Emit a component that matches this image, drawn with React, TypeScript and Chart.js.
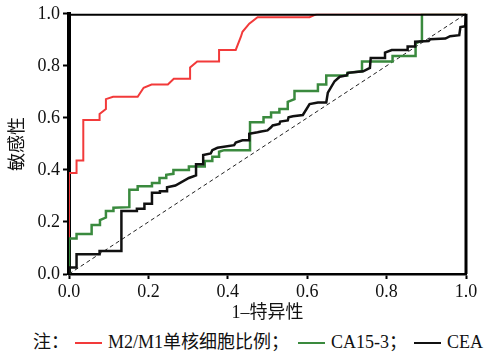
import React, { useEffect, useRef } from "react";
import { Chart, registerables } from "chart.js";

Chart.register(...registerables);

// M2/M1 monocyte ratio ROC
const m2m1Fpr = [0, 0, 0.019, 0.019, 0.036, 0.036, 0.077, 0.077, 0.093, 0.093, 0.111, 0.173, 0.188, 0.208, 0.249, 0.264, 0.305, 0.305, 0.323, 0.378, 0.378, 0.42, 0.433, 0.437, 0.454, 0.475, 0.606, 0.625, 1];
const m2m1Tpr = [0, 0.388, 0.388, 0.436, 0.436, 0.592, 0.592, 0.615, 0.634, 0.672, 0.681, 0.681, 0.716, 0.728, 0.728, 0.75, 0.75, 0.794, 0.817, 0.817, 0.861, 0.861, 0.912, 0.931, 0.962, 0.987, 0.987, 1, 1];

// CA15-3 ROC
const ca153Fpr = [0, 0, 0.019, 0.019, 0.057, 0.057, 0.078, 0.078, 0.093, 0.093, 0.112, 0.112, 0.152, 0.152, 0.173, 0.173, 0.209, 0.209, 0.228, 0.228, 0.245, 0.245, 0.263, 0.263, 0.302, 0.302, 0.342, 0.342, 0.361, 0.361, 0.378, 0.378, 0.391, 0.456, 0.456, 0.49, 0.49, 0.509, 0.509, 0.53, 0.53, 0.551, 0.551, 0.568, 0.568, 0.627, 0.627, 0.648, 0.648, 0.701, 0.701, 0.738, 0.738, 0.815, 0.815, 0.873, 0.873, 0.889, 0.889, 1];
const ca153Tpr = [0, 0.136, 0.136, 0.154, 0.154, 0.188, 0.188, 0.207, 0.217, 0.242, 0.242, 0.255, 0.257, 0.324, 0.324, 0.337, 0.337, 0.35, 0.35, 0.369, 0.369, 0.381, 0.385, 0.4, 0.4, 0.413, 0.413, 0.434, 0.434, 0.451, 0.451, 0.47, 0.476, 0.476, 0.583, 0.583, 0.602, 0.602, 0.621, 0.621, 0.634, 0.634, 0.662, 0.672, 0.703, 0.703, 0.728, 0.728, 0.763, 0.763, 0.773, 0.779, 0.817, 0.817, 0.838, 0.838, 0.886, 0.897, 1, 1];

// CEA ROC
const ceaFpr = [0, 0, 0.019, 0.019, 0.077, 0.077, 0.132, 0.132, 0.171, 0.171, 0.19, 0.19, 0.209, 0.209, 0.229, 0.229, 0.247, 0.247, 0.268, 0.302, 0.32, 0.32, 0.338, 0.338, 0.357, 0.361, 0.374, 0.416, 0.42, 0.437, 0.454, 0.454, 0.475, 0.484, 0.5, 0.509, 0.513, 0.53, 0.532, 0.551, 0.553, 0.564, 0.589, 0.606, 0.627, 0.648, 0.652, 0.669, 0.682, 0.699, 0.703, 0.741, 0.758, 0.76, 0.796, 0.796, 0.813, 0.853, 0.853, 0.872, 0.872, 0.906, 0.91, 0.948, 0.96, 0.983, 0.986, 0.998, 1];
const ceaTpr = [0, 0.025, 0.025, 0.076, 0.076, 0.088, 0.088, 0.242, 0.242, 0.251, 0.251, 0.27, 0.27, 0.312, 0.312, 0.318, 0.318, 0.333, 0.34, 0.369, 0.379, 0.422, 0.422, 0.457, 0.463, 0.476, 0.485, 0.495, 0.505, 0.514, 0.514, 0.539, 0.545, 0.548, 0.552, 0.564, 0.571, 0.577, 0.586, 0.59, 0.602, 0.606, 0.611, 0.653, 0.659, 0.659, 0.697, 0.741, 0.758, 0.763, 0.773, 0.779, 0.792, 0.83, 0.83, 0.851, 0.861, 0.861, 0.874, 0.874, 0.893, 0.895, 0.902, 0.905, 0.914, 0.918, 0.949, 0.952, 1];

// Reference line
const refX = [0, 1];
const refY = [0, 1];

const axisTicks = [0, 0.2, 0.4, 0.6, 0.8, 1.0];

const seriesLabels = ["M2/M1单核细胞比例", "CA15-3", "CEA"];
const RED = "#f23a3a";
const GREEN = "#3a8a3e";
const BLACK = "#111111";

const SERIF = "'Liberation Serif', 'Times New Roman', 'Noto Sans CJK SC', serif";

const toPts = (xs: number[], ys: number[]) => xs.map((x, i) => ({ x, y: ys[i] }));

const framePlugin = {
  id: "frame",
  afterDraw(chart: any) {
    const { ctx, chartArea } = chart;
    ctx.save();
    ctx.strokeStyle = "#000";
    ctx.lineWidth = 2;
    ctx.beginPath();
    ctx.moveTo(chartArea.left, chartArea.top + 1);
    ctx.lineTo(chartArea.right, chartArea.top + 1);
    ctx.stroke();
    ctx.lineWidth = 3;
    ctx.beginPath();
    ctx.moveTo(chartArea.right, chartArea.top);
    ctx.lineTo(chartArea.right, chartArea.bottom);
    ctx.stroke();
    ctx.restore();
  },
};

export default function App() {
  const ref = useRef<HTMLCanvasElement>(null);

  useEffect(() => {
    document.body.style.margin = "0";
    const canvas = ref.current;
    if (!canvas) return;
    const tickFont = { family: SERIF, size: 18 };
    const chart = new Chart(canvas, {
      type: "scatter",
      data: {
        datasets: [
          {
            label: "ref",
            data: toPts(refX, refY),
            showLine: true,
            borderColor: "#222",
            borderWidth: 1,
            borderDash: [4, 3],
            pointRadius: 0,
            order: 4,
          },
          {
            label: seriesLabels[0],
            data: toPts(m2m1Fpr, m2m1Tpr),
            showLine: true,
            borderColor: RED,
            borderWidth: 2,
            pointRadius: 0,
            order: 3,
          },
          {
            label: seriesLabels[1],
            data: toPts(ca153Fpr, ca153Tpr),
            showLine: true,
            borderColor: GREEN,
            borderWidth: 2.5,
            pointRadius: 0,
            order: 2,
          },
          {
            label: seriesLabels[2],
            data: toPts(ceaFpr, ceaTpr),
            showLine: true,
            borderColor: BLACK,
            borderWidth: 2.5,
            pointRadius: 0,
            order: 1,
          },
        ],
      },
      options: {
        responsive: false,
        animation: false,
        layout: { padding: { left: 0, right: 22, top: 10, bottom: 0 } },
        plugins: { legend: { display: false }, tooltip: { enabled: false } },
        scales: {
          x: {
            type: "linear",
            min: 0,
            max: 1,
            afterBuildTicks: (s: any) => {
              s.ticks = axisTicks.map((v) => ({ value: v }));
            },
            ticks: {
              callback: (v: any) => Number(v).toFixed(1),
              font: tickFont,
              color: "#111",
              padding: 2,
              maxRotation: 0,
            },
            grid: {
              drawOnChartArea: false,
              drawTicks: true,
              tickLength: 5,
              tickWidth: 2,
              tickColor: "#000",
            },
            border: { display: true, color: "#000", width: 2.5 },
            title: {
              display: true,
              text: "1–特异性",
              font: tickFont,
              color: "#111",
              padding: { top: 0, bottom: 6 },
            },
            afterFit: (s: any) => {
              s.height = 56;
            },
          },
          y: {
            type: "linear",
            min: 0,
            max: 1,
            afterBuildTicks: (s: any) => {
              s.ticks = axisTicks.map((v) => ({ value: v }));
            },
            ticks: {
              callback: (v: any) => Number(v).toFixed(1),
              font: tickFont,
              color: "#111",
              padding: 3,
            },
            grid: {
              drawOnChartArea: false,
              drawTicks: true,
              tickLength: 6,
              tickWidth: 2,
              tickColor: "#000",
            },
            border: { display: true, color: "#000", width: 4 },
            title: {
              display: true,
              text: "敏感性",
              font: tickFont,
              color: "#111",
              padding: { top: 7, bottom: 0 },
            },
            afterFit: (s: any) => {
              s.width = 69;
            },
          },
        },
      },
      plugins: [framePlugin],
    });
    return () => chart.destroy();
  }, []);

  const legendText: React.CSSProperties = {
    position: "absolute",
    top: 331,
    fontFamily: SERIF,
    fontSize: 18,
    lineHeight: "22px",
    color: "#111",
    whiteSpace: "nowrap",
  };
  const line = (left: number, color: string): React.CSSProperties => ({
    position: "absolute",
    left,
    top: 342,
    width: 27,
    height: 2,
    background: color,
  });

  return (
    <div style={{ position: "relative", width: 488, height: 355, background: "#fff" }}>
      <canvas ref={ref} width={488} height={330} style={{ display: "block" }} />
      <span style={{ ...legendText, left: 33 }}>注：</span>
      <div style={line(75, RED)} />
      <span style={{ ...legendText, left: 108 }}>{seriesLabels[0]}；</span>
      <div style={line(298, GREEN)} />
      <span style={{ ...legendText, left: 331 }}>{seriesLabels[1]}；</span>
      <div style={line(414, BLACK)} />
      <span style={{ ...legendText, left: 447 }}>{seriesLabels[2]}</span>
    </div>
  );
}
